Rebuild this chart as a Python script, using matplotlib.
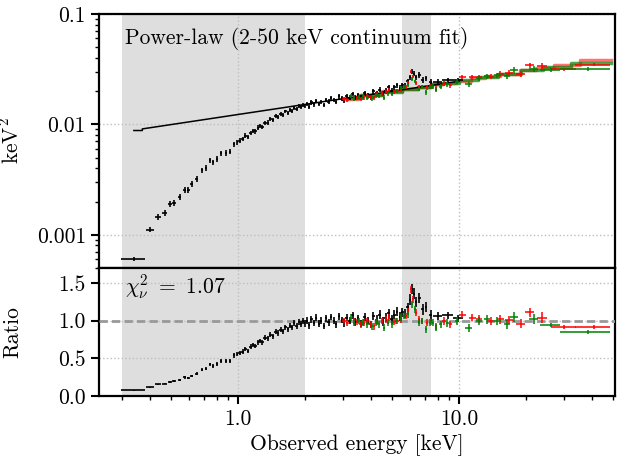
import numpy as np
import matplotlib
matplotlib.use("Agg")
import matplotlib.pyplot as plt

plt.rcParams['font.family'] = ['cmr10']
plt.rcParams['mathtext.fontset'] = 'cm'
plt.rcParams['axes.formatter.use_mathtext'] = True

# --- black (soft X-ray) spectrum: energy [keV], bin half width, keV^2 flux, ratio, ratio error
black_e_low = [0.338, 0.400, 0.436, 0.466, 0.492, 0.513, 0.545, 0.574, 0.596, 0.618, 0.650,
               0.689, 0.719, 0.745, 0.773, 0.806, 0.841, 0.880, 0.920, 0.960, 0.993]
black_de_low = [0.042, 0.018, 0.014, 0.012, 0.011, 0.010, 0.010, 0.010, 0.009, 0.009, 0.009,
                0.008, 0.008, 0.008, 0.008, 0.008, 0.008, 0.008, 0.008, 0.008, 0.008]
black_flux_low = [6.05e-4, 1.11e-3, 1.45e-3, 1.57e-3, 1.90e-3, 1.94e-3, 2.21e-3, 2.57e-3, 2.57e-3,
                  2.87e-3, 3.21e-3, 3.84e-3, 4.04e-3, 4.73e-3, 4.54e-3, 4.88e-3, 5.45e-3, 5.52e-3,
                  5.68e-3, 6.58e-3, 6.90e-3]
black_ratio_low = [0.075, 0.118, 0.155, 0.165, 0.190, 0.195, 0.214, 0.246, 0.243, 0.268, 0.296,
                   0.348, 0.361, 0.419, 0.397, 0.422, 0.465, 0.464, 0.471, 0.539, 0.560]
black_err_low = [0.003, 0.006, 0.009, 0.010, 0.011, 0.012, 0.013, 0.015, 0.015, 0.016, 0.018,
                 0.020, 0.021, 0.024, 0.023, 0.024, 0.026, 0.026, 0.027, 0.030, 0.030]

black_e_mid = [1.02, 1.05, 1.08, 1.11, 1.14, 1.17, 1.20, 1.23, 1.26, 1.29, 1.32, 1.36, 1.40, 1.44,
               1.48, 1.52, 1.56, 1.60, 1.64, 1.68, 1.72, 1.76, 1.80, 1.84, 1.88, 1.92, 1.96, 2.00]
black_de_mid = [0.015, 0.015, 0.015, 0.015, 0.015, 0.015, 0.015, 0.015, 0.015, 0.015, 0.02, 0.02,
                0.02, 0.02, 0.02, 0.02, 0.02, 0.02, 0.02, 0.02, 0.02, 0.02, 0.02, 0.02, 0.02, 0.02,
                0.02, 0.02]
black_flux_mid = [0.00714, 0.00739, 0.00793, 0.00767, 0.00841, 0.00877, 0.00863, 0.00935, 0.00966,
                  0.00948, 0.0104, 0.0104, 0.0111, 0.0109, 0.0119, 0.0117, 0.0124, 0.0122, 0.0131,
                  0.0128, 0.0136, 0.0133, 0.0142, 0.0138, 0.0147, 0.0143, 0.0151, 0.0147]
black_ratio_mid = [0.575, 0.590, 0.628, 0.602, 0.655, 0.678, 0.662, 0.712, 0.730, 0.712, 0.775,
                   0.768, 0.815, 0.795, 0.855, 0.838, 0.880, 0.858, 0.912, 0.885, 0.935, 0.910,
                   0.965, 0.932, 0.985, 0.950, 1.000, 0.965]
black_err_mid = [0.028, 0.028, 0.028, 0.028, 0.030, 0.030, 0.030, 0.032, 0.032, 0.032, 0.033,
                 0.034, 0.034, 0.034, 0.036, 0.036, 0.036, 0.037, 0.037, 0.037, 0.038, 0.038,
                 0.039, 0.039, 0.040, 0.040, 0.042, 0.042]

black_e_high = [2.05, 2.10, 2.15, 2.20, 2.26, 2.32, 2.38, 2.44, 2.50, 2.57, 2.64, 2.71, 2.78, 2.86,
                2.94, 3.02, 3.10, 3.20, 3.30, 3.40, 3.50, 3.62, 3.74, 3.86, 3.98, 4.10, 4.24, 4.38,
                4.52, 4.66, 4.80, 4.95, 5.10, 5.25, 5.40, 5.55, 5.70, 5.85, 6.00, 6.12, 6.25, 6.40,
                6.60, 6.85, 7.10, 7.45, 8.00, 8.90, 9.90]
black_de_high = [0.025] * 8 + [0.03] * 7 + [0.04] * 6 + [0.05] * 5 + [0.06] * 6 + [0.07] * 6 \
    + [0.06] * 4 + [0.10] * 4 + [0.40, 0.50, 0.50]
black_flux_high = [0.0153, 0.0145, 0.0158, 0.0152, 0.0164, 0.0153, 0.0160, 0.0150, 0.0167, 0.0161,
                   0.0173, 0.0166, 0.0159, 0.0179, 0.0172, 0.0166, 0.0180, 0.0175, 0.0188, 0.0174,
                   0.0184, 0.0174, 0.0192, 0.0184, 0.0177, 0.0199, 0.0191, 0.0206, 0.0191, 0.0202,
                   0.0216, 0.0202, 0.0216, 0.0226, 0.0213, 0.0227, 0.0225, 0.0245, 0.0268, 0.0300,
                   0.0288, 0.0268, 0.0281, 0.0251, 0.0261, 0.0240, 0.0244, 0.0254, 0.0252]
black_ratio_high = [1.00, 0.94, 1.02, 0.97, 1.04, 0.96, 1.00, 0.93, 1.03, 0.98, 1.05, 1.00, 0.95,
                    1.06, 1.01, 0.97, 1.04, 1.00, 1.07, 0.98, 1.03, 0.96, 1.05, 1.00, 0.95, 1.06,
                    1.01, 1.08, 0.99, 1.04, 1.10, 1.02, 1.08, 1.12, 1.05, 1.11, 1.09, 1.18, 1.28,
                    1.42, 1.36, 1.25, 1.30, 1.15, 1.18, 1.07, 1.06, 1.07, 1.03]
black_err_high = [0.045] * 15 + [0.05] * 11 + [0.06] * 12 + [0.07] * 8 + [0.05] * 3

# --- red (FPMA) spectrum
red_e = [3.02, 3.12, 3.35, 3.47, 3.59, 3.72, 3.85, 3.98, 4.12, 4.27, 4.50, 4.66, 4.82, 5.08, 5.26,
         5.45, 5.74, 5.90, 6.09, 6.19, 6.37, 6.59, 6.82, 7.19, 7.45, 7.85, 8.56, 9.15, 10.35, 11.5,
         12.3, 13.9, 15.4, 16.8, 19.0, 20.9, 23.8, 29.9, 40.8]
red_de = [0.05] * 13 + [0.07] * 13 + [0.15, 0.15, 0.4, 0.4, 0.4, 0.5, 0.6, 0.7, 0.8, 1.0, 1.3,
                                      3.9, 7.4]
red_flux = [0.0169, 0.0167, 0.0175, 0.0174, 0.0170, 0.0176, 0.0182, 0.0176, 0.0174, 0.0186, 0.0191,
            0.0197, 0.0204, 0.0196, 0.0201, 0.0207, 0.0220, 0.0236, 0.0299, 0.0273, 0.0237, 0.0220,
            0.0218, 0.0216, 0.0220, 0.0212, 0.0233, 0.0227, 0.0269, 0.0267, 0.0268, 0.0271, 0.0286,
            0.0292, 0.0288, 0.0343, 0.0335, 0.0316, 0.0348]
red_ratio = [0.995, 0.973, 0.995, 0.982, 0.950, 0.973, 0.995, 0.950, 0.928, 0.982, 0.995, 1.017,
             1.040, 0.982, 0.995, 1.017, 1.062, 1.129, 1.419, 1.285, 1.106, 1.017, 0.995, 0.973,
             0.982, 0.928, 0.995, 0.950, 1.080, 1.040, 1.020, 0.995, 1.017, 1.010, 0.960, 1.110,
             1.040, 0.915, 0.915]
red_err = [0.045] * 26 + [0.05] * 6 + [0.055, 0.055, 0.06, 0.065, 0.07] + [0.03, 0.03]

# --- green (FPMB) spectrum
green_e = [3.24, 3.35, 3.53, 3.68, 3.85, 4.05, 4.20, 4.35, 4.58, 4.79, 4.99, 5.20, 5.45, 5.64, 5.90,
           6.15, 6.32, 6.59, 6.82, 7.07, 7.37, 7.60, 7.85, 8.25, 8.86, 9.80, 11.1, 12.3, 13.4, 14.9,
           16.5, 17.7, 21.8, 26.0, 38.5]
green_de = [0.05] * 11 + [0.07] * 12 + [0.12, 0.15, 0.2, 0.4, 0.4, 0.45, 0.55, 0.6, 0.7, 1.0, 2.7,
                                        9.85]
green_flux = [0.0180, 0.0171, 0.0177, 0.0175, 0.0174, 0.0172, 0.0183, 0.0181, 0.0175, 0.0191, 0.0188,
              0.0200, 0.0212, 0.0219, 0.0227, 0.0258, 0.0245, 0.0210, 0.0218, 0.0195, 0.0218, 0.0220,
              0.0207, 0.0220, 0.0231, 0.0243, 0.0230, 0.0261, 0.0274, 0.0278, 0.0273, 0.0309, 0.0319,
              0.0311, 0.0317]
green_ratio = [1.040, 0.973, 0.995, 0.973, 0.950, 0.928, 0.973, 0.950, 0.906, 0.973, 0.950, 0.995,
               1.040, 1.062, 1.084, 1.218, 1.151, 0.973, 0.995, 0.884, 0.973, 0.973, 0.906, 0.950,
               0.973, 0.995, 0.906, 0.995, 1.017, 0.995, 0.950, 1.050, 1.020, 0.940, 0.850]
green_err = [0.045] * 23 + [0.05] * 5 + [0.055, 0.055, 0.06, 0.065, 0.07, 0.03, 0.03]

# --- continuum models (power law)
black_model_e = [0.338, 0.369, 0.369, 10.0]
black_model = [0.0088, 0.0088, 0.0091, 0.0246]
red_model_e = [3.0, 4.0, 5.0, 6.0, 7.0, 8.0, 9.0, 10.35, 12.3, 13.9, 16.8, 20.9, 23.8, 29.9, 40.8, 48.7]
red_model = [0.0169, 0.0185, 0.0199, 0.0210, 0.0220, 0.0230, 0.0238, 0.0249, 0.0262, 0.0272, 0.0289,
             0.0309, 0.0322, 0.0345, 0.0380, 0.0380]
green_model_e = [3.2, 4.0, 5.0, 6.0, 7.0, 8.0, 9.0, 11.1, 13.4, 16.5, 21.8, 26.0, 38.5, 48.5]
green_model = [0.0172, 0.0185, 0.0198, 0.0210, 0.0220, 0.0230, 0.0238, 0.0254, 0.0269, 0.0287,
               0.0313, 0.0331, 0.0362, 0.0362]

bands = [(0.3, 2.0), (5.5, 7.5)]

black_e = np.array(black_e_low + black_e_mid + black_e_high)
black_de = np.array(black_de_low + black_de_mid + black_de_high)
black_flux = np.array(black_flux_low + black_flux_mid + black_flux_high)
black_ratio = np.array(black_ratio_low + black_ratio_mid + black_ratio_high)
black_err = np.array(black_err_low + black_err_mid + black_err_high)

datasets = [
    (black_e, black_de, black_flux, black_ratio, black_err, 'black'),
    (np.array(red_e), np.array(red_de), np.array(red_flux), np.array(red_ratio), np.array(red_err), 'red'),
    (np.array(green_e), np.array(green_de), np.array(green_flux), np.array(green_ratio),
     np.array(green_err), 'green'),
]

FS = 15.5

fig = plt.figure(figsize=(6.17, 4.59), dpi=100)
ax1 = fig.add_axes([99 / 617, 1 - 268 / 459, 516 / 617, 254 / 459])
ax2 = fig.add_axes([99 / 617, 1 - 396 / 459, 516 / 617, 128 / 459], sharex=ax1)

for ax in (ax1, ax2):
    for lo, hi in bands:
        ax.axvspan(lo, hi, color='#dedede', lw=0, zorder=0)
    ax.grid(which='major', ls=':', color='0.75', lw=1.0, zorder=0.5)
    for s in ax.spines.values():
        s.set_linewidth(1.6)

# models
ax1.plot(black_model_e, black_model, color='black', lw=1.1, zorder=3)
ax1.plot(red_model_e, red_model, color='red', lw=2.5, alpha=0.55, drawstyle='steps-mid', zorder=2)
ax1.plot(green_model_e, green_model, color='green', lw=2.5, alpha=0.7, drawstyle='steps-mid', zorder=2)

for e, de, flux, ratio, err, col in datasets:
    lw = 1.2 if col == 'black' else 1.1
    ax1.errorbar(e, flux, xerr=de, yerr=flux * err / ratio, fmt='none', ecolor=col,
                 elinewidth=lw, zorder=4)
    ax2.errorbar(e, ratio, xerr=de, yerr=err, fmt='none', ecolor=col, elinewidth=lw, zorder=4)

ax2.axhline(1.0, color='#999999', ls='--', lw=2, dashes=(3, 1.5), zorder=3)

ax1.set_xscale('log')
ax1.set_yscale('log')
ax1.set_xlim(0.235, 50.8)
ax1.set_ylim(5e-4, 0.1)
ax1.set_yticks([0.001, 0.01, 0.1])
ax1.set_yticklabels(['0.001', '0.01', '0.1'])
ax1.tick_params(axis='x', which='both', bottom=False, labelbottom=False)
ax1.tick_params(axis='y', which='major', direction='out', length=6, width=1.5, labelsize=FS)
ax1.tick_params(axis='y', which='minor', direction='out', length=3, width=1.0)

ax2.set_ylim(0, 1.7)
ax2.set_yticks([0.0, 0.5, 1.0, 1.5])
ax2.set_yticklabels(['0.0', '0.5', '1.0', '1.5'])
ax2.set_xticks([1.0, 10.0])
ax2.set_xticklabels(['1.0', '10.0'])
ax2.tick_params(axis='both', which='major', direction='out', length=6, width=1.5, labelsize=FS)
ax2.tick_params(axis='x', which='minor', direction='out', length=3, width=1.0, labelbottom=False)

ax1.text(0.05, 0.905, 'Power-law (2-50 keV continuum fit)', transform=ax1.transAxes,
         fontsize=FS, va='center', ha='left')
ax2.text(0.05, 0.85, r'$\chi^2_\nu\ =\ 1.07$', transform=ax2.transAxes, fontsize=FS,
         va='center', ha='left')

ax1.set_ylabel('keV$^2$', fontsize=FS)
ax2.set_ylabel('Ratio', fontsize=FS)
ax1.yaxis.set_label_coords(-0.148, 0.5)
ax2.yaxis.set_label_coords(-0.148, 0.5)
ax2.set_xlabel('Observed energy [keV]', fontsize=FS)

fig.savefig('out.png', dpi=100)
